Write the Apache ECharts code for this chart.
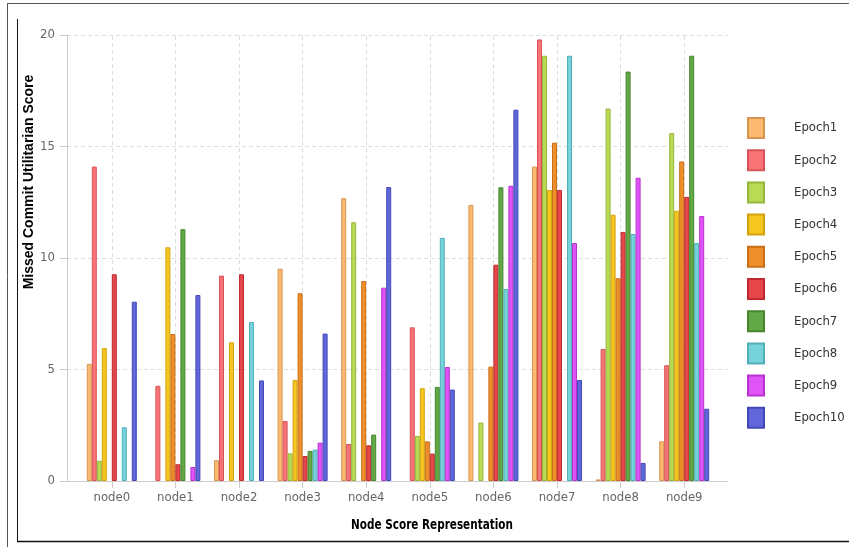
<!DOCTYPE html>
<html><head><meta charset="utf-8">
<script src="https://cdn.jsdelivr.net/npm/echarts@6/dist/echarts.min.js"></script>
<style>html,body{margin:0;padding:0;background:#fff}#c{width:849px;height:547px}</style>
</head><body><div id="c"></div>
<script>
const categories = ['node0','node1','node2','node3','node4','node5','node6','node7','node8','node9'];
const seriesNames = ['Epoch1','Epoch2','Epoch3','Epoch4','Epoch5','Epoch6','Epoch7','Epoch8','Epoch9','Epoch10'];
const epoch1  = [5.25, null, 0.93, 9.52, 12.68, null, 12.38, 14.1, 0.07, 1.78];
const epoch2  = [14.1, 4.27, 9.21, 2.69, 1.66, 6.89, null, 19.8, 5.92, 5.19];
const epoch3  = [0.91, null, null, 1.24, 11.6, 2.02, 2.62, 19.07, 16.7, 15.6];
const epoch4  = [5.96, 10.48, 6.22, 4.53, null, 4.16, null, 13.05, 11.94, 12.12];
const epoch5  = [null, 6.59, null, 8.42, 8.97, 1.78, 5.13, 15.17, 9.09, 14.33];
const epoch6  = [9.27, 0.75, 9.27, 1.12, 1.6, 1.23, 9.7, 13.05, 11.17, 12.74];
const epoch7  = [null, 11.29, null, 1.35, 2.08, 4.22, 13.17, null, 18.36, 19.07];
const epoch8  = [2.41, null, 7.13, 1.41, null, 10.9, 8.61, 19.07, 11.08, 10.67];
const epoch9  = [null, 0.63, null, 1.72, 8.67, 5.11, 13.24, 10.67, 13.6, 11.88];
const epoch10 = [8.04, 8.34, 4.51, 6.61, 13.18, 4.1, 16.65, 4.53, 0.81, 3.24];
const yMin = 0, yMax = 20, yStep = 5;
const xTitle = 'Node Score Representation';
const yTitle = 'Missed Commit Utilitarian Score';

const allData = [epoch1, epoch2, epoch3, epoch4, epoch5, epoch6, epoch7, epoch8, epoch9, epoch10];
const fills   = ['#FBB972','#F87476','#B9DA55','#F5C520','#EE8F2C','#E5474B','#62A846','#76D2DB','#E053F4','#6167DA'];
const borders = ['#D79550','#D65458','#94B63B','#D3A30E','#C96F16','#BF2B30','#45852E','#52AFB8','#B832CF','#4249B6'];
const FONT = '"DejaVu Sans Condensed","DejaVu Sans",sans-serif';

const chart = echarts.init(document.getElementById('c'), null, {renderer:'canvas'});
const series = allData.map((d, i) => ({
  name: seriesNames[i], type: 'bar', xAxisIndex: 1, yAxisIndex: 1,
  data: d, barWidth: 5, barGap: '0%',
  itemStyle: {color: fills[i], borderColor: borders[i], borderWidth: 1}
}));
series.push({
  name: 'grid', type: 'line', xAxisIndex: 1, yAxisIndex: 1, data: [], z: 1,
  markLine: {
    silent: true, symbol: 'none', z: 1, animation: false,
    label: {show: false},
    lineStyle: {type: [4, 3], color: '#dddddd', width: 1},
    emphasis: {disabled: true},
    data: categories.map(c => ({xAxis: c}))
  }
});

chart.setOption({
  animation: false,
  backgroundColor: '#ffffff',
  grid: [
    {left: 67, right: 121, top: 35, bottom: 66},
    {left: 80, right: 133, top: 35, bottom: 66}
  ],
  xAxis: [
    {gridIndex: 0, type: 'category', data: categories,
     axisLine: {show: true, lineStyle: {color: '#cccccc'}},
     axisTick: {show: false}, axisLabel: {show: false}, splitLine: {show: false}},
    {gridIndex: 1, type: 'category', data: categories,
     axisLine: {show: false},
     axisTick: {show: true, alignWithLabel: true, length: 7, lineStyle: {color: '#cccccc'}},
     axisLabel: {margin: 10, color: '#666666', fontSize: 13, fontFamily: FONT},
     splitLine: {show: false}}
  ],
  yAxis: [
    {gridIndex: 0, type: 'value', min: yMin, max: yMax, interval: yStep,
     axisLine: {show: true, lineStyle: {color: '#cccccc'}},
     axisTick: {show: true, length: 7, lineStyle: {color: '#cccccc'}},
     axisLabel: {margin: 12, color: '#666666', fontSize: 13, fontFamily: FONT},
     splitLine: {show: true, lineStyle: {type: [4, 3], color: '#dddddd'}}},
    {gridIndex: 1, type: 'value', min: yMin, max: yMax, interval: yStep, show: false,
     splitLine: {show: false}}
  ],
  legend: {
    data: seriesNames, orient: 'vertical', left: 742, top: 112,
    itemWidth: 16, itemHeight: 20, itemGap: 10.2, icon: 'rect',
    textStyle: {fontSize: 13, color: '#333333', fontFamily: FONT, padding: [0, 0, 0, 25]}
  },
  graphic: [
    {type: 'text', x: 29, y: 182, rotation: Math.PI / 2, silent: true,
     style: {text: yTitle, fontSize: 14, fontWeight: 'bold', fontFamily: '"Liberation Sans",Arial,sans-serif',
             fill: '#000000', align: 'center', verticalAlign: 'middle'}},
    {type: 'text', x: 432, y: 525, scaleX: 0.83, silent: true,
     style: {text: xTitle, fontSize: 14, fontWeight: 'bold', fontFamily: FONT,
             fill: '#000000', align: 'center', verticalAlign: 'middle'}},
    {type: 'line', silent: true, shape: {x1: 7.5, y1: 4, x2: 7.5, y2: 547}, style: {stroke: '#555555', lineWidth: 1}},
    {type: 'line', silent: true, shape: {x1: 7, y1: 3.5, x2: 849, y2: 3.5}, style: {stroke: '#555555', lineWidth: 1}},
    {type: 'line', silent: true, shape: {x1: 17.5, y1: 19, x2: 17.5, y2: 541}, style: {stroke: '#111111', lineWidth: 1}},
    {type: 'line', silent: true, shape: {x1: 17, y1: 541.5, x2: 849, y2: 541.5}, style: {stroke: '#111111', lineWidth: 1.5}}
  ],
  series: series
});
</script>
</body></html>
